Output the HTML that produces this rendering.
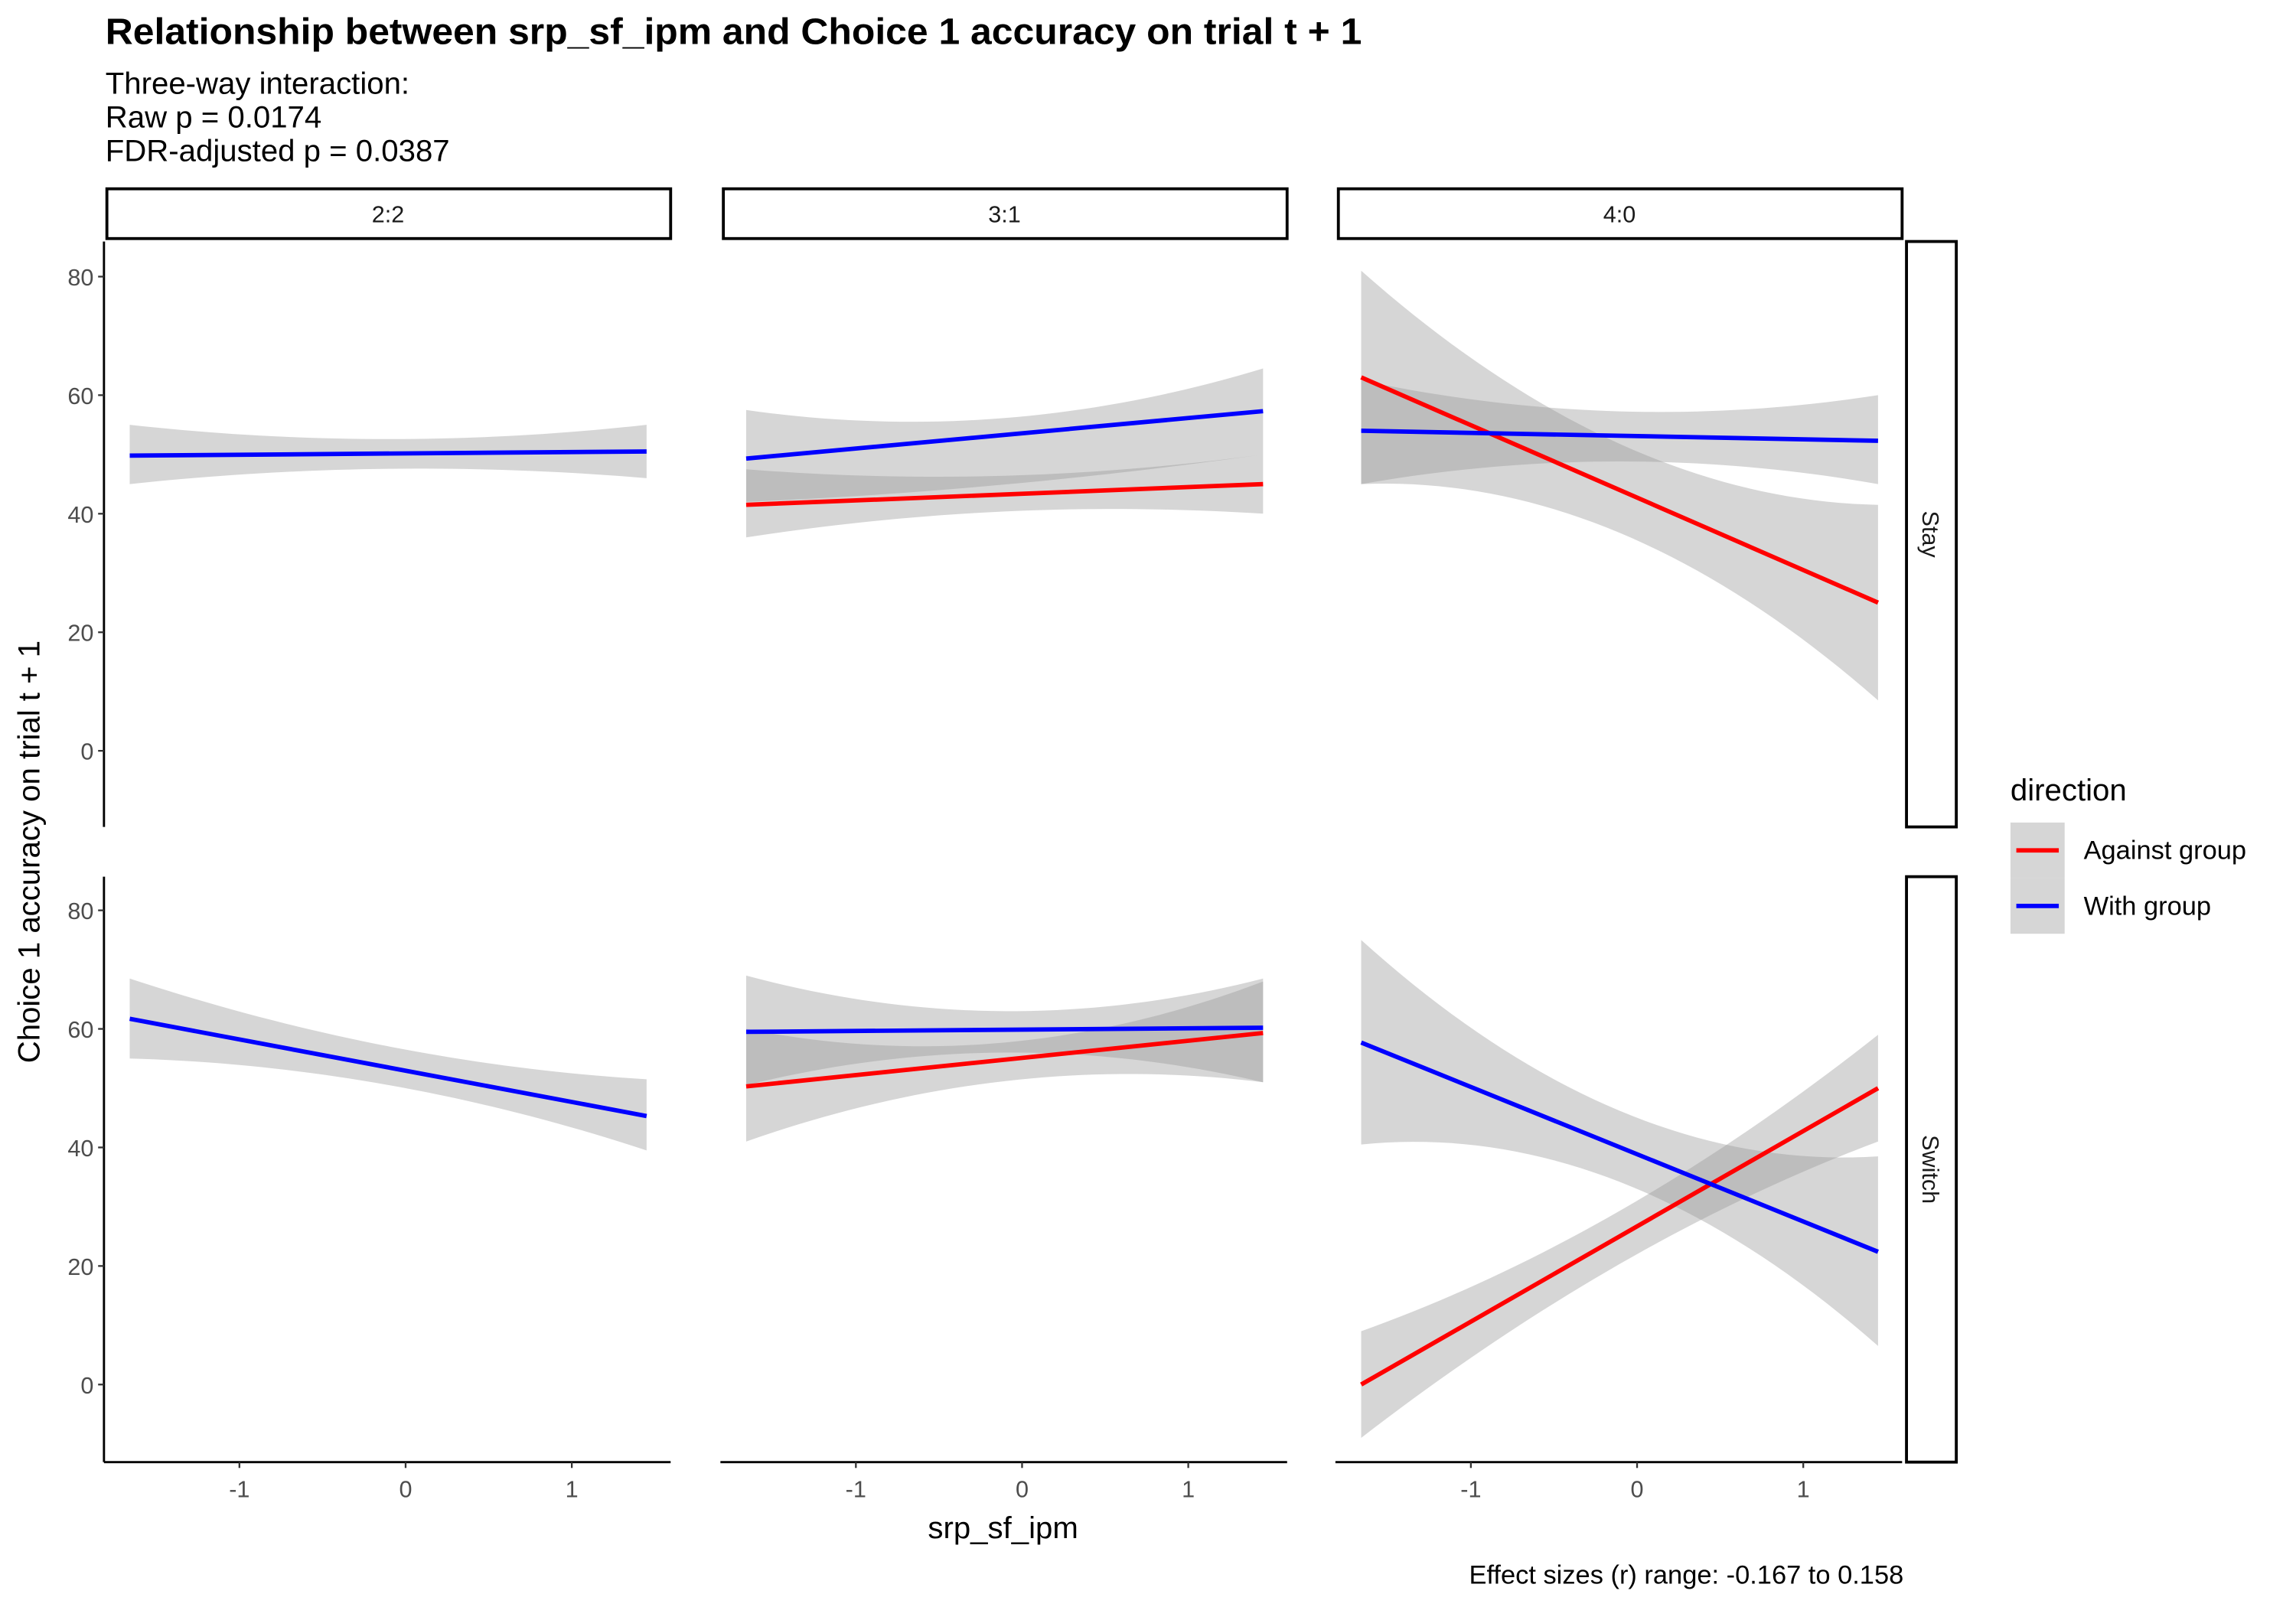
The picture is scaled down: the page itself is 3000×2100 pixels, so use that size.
<!DOCTYPE html>
<html><head><meta charset="utf-8"><style>
html,body{margin:0;padding:0;background:#fff;}
svg{display:block;font-family:"Liberation Sans",sans-serif;}
</style></head><body>
<svg id="chart" width="3000" height="2100" viewBox="0 0 1568 1098" preserveAspectRatio="none" xmlns="http://www.w3.org/2000/svg">
<text x="72" y="30" font-size="25" font-weight="bold" fill="#000" textLength="858" lengthAdjust="spacingAndGlyphs">Relationship between srp_sf_ipm and Choice 1 accuracy on trial t + 1</text>
<text x="72" y="64" font-size="21" fill="#000">Three-way interaction:</text>
<text x="72" y="87" font-size="21" fill="#000">Raw p = 0.0174</text>
<text x="72" y="110" font-size="21" fill="#000">FDR-adjusted p = 0.0387</text>
<text transform="translate(27,582) rotate(-90)" text-anchor="middle" font-size="21" fill="#000">Choice 1 accuracy on trial t + 1</text>
<text x="685" y="1051" text-anchor="middle" font-size="21" fill="#000">srp_sf_ipm</text>
<text x="1300" y="1082" text-anchor="end" font-size="18" fill="#000">Effect sizes (r) range: -0.167 to 0.158</text>
<g>
<text x="1373" y="547" font-size="21" fill="#000">direction</text>
<rect x="1373" y="562" width="37" height="38" fill="#d6d6d6"/>
<line x1="1377" y1="581" x2="1406" y2="581" stroke="#ff0000" stroke-width="3"/>
<text x="1423" y="587" font-size="18" fill="#000">Against group</text>
<rect x="1373" y="600" width="37" height="38" fill="#d6d6d6"/>
<line x1="1377" y1="619" x2="1406" y2="619" stroke="#0000ff" stroke-width="3"/>
<text x="1423" y="625" font-size="18" fill="#000">With group</text>
</g>
<g id="panels"></g>
</svg>
<script>
// categories
const colLabels = ["2:2", "3:1", "4:0"];
const rowLabels = ["Stay", "Switch"];
const yTicks = [0, 20, 40, 60, 80];
const xTicks = [-1, 0, 1];
const xData = [-1.66, 0, 1.45];
// series per panel: [row][col] -> null or [start,end], ribbons [lowL,lowM,lowR] / [hiL,hiM,hiR]
const againstFit = [[null, [41.5, 45], [63, 25]], [null, [50.3, 59.3], [0, 50]]];
const againstLo = [[null, [36, 40.5, 40], [45, 35.5, 8.5]], [null, [41, 51.5, 51], [-9, 22, 41]]];
const againstHi = [[null, [47.5, 46.5, 50], [81, 50.5, 41.5]], [null, [60, 58, 68], [9, 31, 59]]];
const withFit = [[[49.8, 50.5], [49.3, 57.3], [54, 52.3]], [[61.7, 45.3], [59.5, 60.2], [57.7, 22.4]]];
const withLo = [[[45, 47.6, 46], [42, 45.2, 50], [45, 48.8, 45]], [[55, 50, 39.5], [50.5, 56, 51], [40.5, 33, 6.5]]];
const withHi = [[[55, 52.6, 55], [57.5, 56.4, 64.5], [62.5, 57.2, 60]], [[68.5, 56.5, 51.5], [69, 63, 68.5], [75, 45, 38.5]]];

const NS = "http://www.w3.org/2000/svg";
const root = document.getElementById("panels");
const colX0 = [72, 493, 913], panelW = 386;
const rowY0 = [165, 599], panelH = 400;
const zeroX = [277, 698, 1118], unitX = 113.5;
const zeroY = [513, 946], unitY = 4.05;
function sx(c, v) { return zeroX[c] + v * unitX; }
function sy(r, v) { return zeroY[r] - v * unitY; }
function mk(tag, attrs, parent) {
  const e = document.createElementNS(NS, tag);
  for (const k in attrs) e.setAttribute(k, attrs[k]);
  (parent || root).appendChild(e);
  return e;
}
function quad(vals, x) {
  const [x0, x1, x2] = xData, [y0, y1, y2] = vals;
  return y0 * (x - x1) * (x - x2) / ((x0 - x1) * (x0 - x2)) + y1 * (x - x0) * (x - x2) / ((x1 - x0) * (x1 - x2)) + y2 * (x - x0) * (x - x1) / ((x2 - x0) * (x2 - x1));
}
function ribbon(r, c, lo, hi, name) {
  const N = 40; let pts = [];
  for (let i = 0; i <= N; i++) { const x = xData[0] + (xData[2] - xData[0]) * i / N; pts.push(sx(c, x).toFixed(2) + "," + sy(r, quad(hi, x)).toFixed(2)); }
  for (let i = N; i >= 0; i--) { const x = xData[0] + (xData[2] - xData[0]) * i / N; pts.push(sx(c, x).toFixed(2) + "," + sy(r, quad(lo, x)).toFixed(2)); }
  const p = mk("polygon", { points: pts.join(" "), fill: "#999999", "fill-opacity": "0.4" });
  
  
}
function fit(r, c, f, color, name) {
  const l = mk("line", { x1: sx(c, xData[0]), y1: sy(r, f[0]), x2: sx(c, xData[2]), y2: sy(r, f[1]), stroke: color, "stroke-width": 3 });
  
  
}
colLabels.forEach((lab, c) => {
  const s = mk("rect", { x: colX0[c] + 1, y: 129, width: panelW - 1, height: 34, fill: "#fff", stroke: "#000", "stroke-width": 2 });
  
  
  const t = mk("text", { x: colX0[c] + panelW / 2, y: 152, "text-anchor": "middle", "font-size": 16, fill: "#1a1a1a" });
  t.textContent = lab;
  
  
});
rowLabels.forEach((lab, r) => {
  const s = mk("rect", { x: 1302, y: rowY0[r], width: 34, height: panelH, fill: "#fff", stroke: "#000", "stroke-width": 2 });
  
  
  const t = mk("text", { transform: "translate(1313," + (rowY0[r] + panelH / 2) + ") rotate(90)", "text-anchor": "middle", "font-size": 16, fill: "#1a1a1a" });
  t.textContent = lab;
  
  
});
for (let r = 0; r < 2; r++) {
  const ya = mk("line", { x1: 71, y1: rowY0[r], x2: 71, y2: rowY0[r] + panelH, stroke: "#000", "stroke-width": 1.5 });
  
  
  yTicks.forEach(v => {
    mk("line", { x1: 67, y1: sy(r, v), x2: 71, y2: sy(r, v), stroke: "#333", "stroke-width": 1.2 });
    const t = mk("text", { x: 64, y: sy(r, v) + 6, "text-anchor": "end", "font-size": 16, fill: "#4d4d4d" });
    t.textContent = v;
    
    
  });
  for (let c = 0; c < 3; c++) {
    if (againstFit[r][c]) ribbon(r, c, againstLo[r][c], againstHi[r][c], 'ribbon-against-' + r + '-' + c);
    ribbon(r, c, withLo[r][c], withHi[r][c], 'ribbon-with-' + r + '-' + c);
    if (againstFit[r][c]) fit(r, c, againstFit[r][c], "#ff0000", 'line-against-' + r + '-' + c);
    fit(r, c, withFit[r][c], "#0000ff", 'line-with-' + r + '-' + c);
  }
}
for (let c = 0; c < 3; c++) {
  const xa = mk("line", { x1: colX0[c] - 1, y1: 999, x2: colX0[c] + panelW, y2: 999, stroke: "#000", "stroke-width": 1.5 });
  
  
  xTicks.forEach(v => {
    mk("line", { x1: sx(c, v), y1: 999, x2: sx(c, v), y2: 1003, stroke: "#333", "stroke-width": 1.2 });
    const t = mk("text", { x: sx(c, v), y: 1023, "text-anchor": "middle", "font-size": 16, fill: "#4d4d4d" });
    t.textContent = v;
    
    
  });
}
</script>
</body></html>
